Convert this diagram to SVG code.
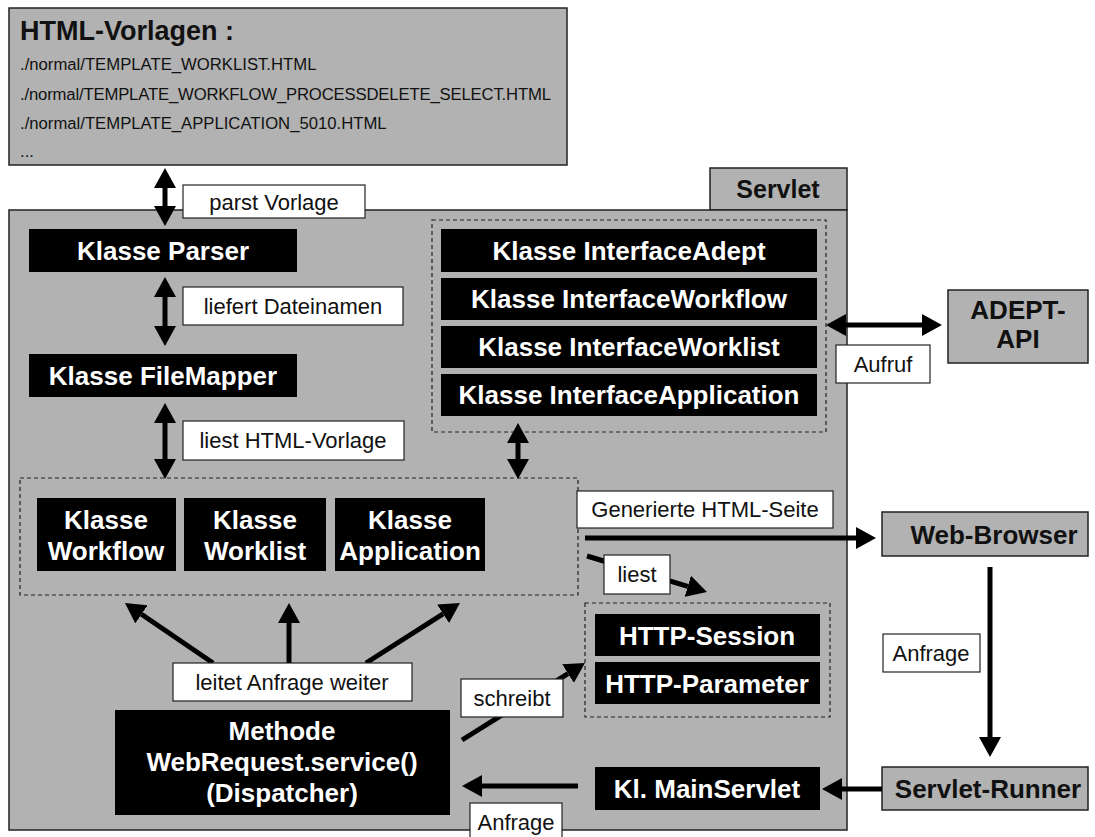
<svg xmlns="http://www.w3.org/2000/svg" width="1095" height="837" viewBox="0 0 1095 837">
  <style>
    .area { fill: #b2b2b2; stroke: #222; stroke-width: 1.5; }
    .cls { fill: #000; }
    .dash { fill: none; stroke: #222; stroke-width: 1.2; stroke-dasharray: 4 3; }
    .lbl { fill: #fff; stroke: #222; stroke-width: 1.2; }
    .wt { fill: #fff; font-family: "Liberation Sans", Arial, sans-serif; font-weight: bold; font-size: 26px; text-anchor: middle; }
    .bt { fill: #111; font-family: "Liberation Sans", Arial, sans-serif; font-weight: bold; font-size: 26px; text-anchor: middle; }
    .lt { fill: #111; font-family: "Liberation Sans", Arial, sans-serif; font-size: 22px; text-anchor: middle; }
    .ft { fill: #111; font-family: "Liberation Sans", Arial, sans-serif; font-size: 16.7px; }
    .ar { stroke: #000; stroke-width: 5; fill: none; marker-end: url(#ah); }
    .ar2 { stroke: #000; stroke-width: 5; fill: none; marker-start: url(#ah); marker-end: url(#ah); }
  </style>
  <defs>
    <marker id="ah" viewBox="0 0 20 22" refX="0" refY="11" markerWidth="20" markerHeight="22" markerUnits="userSpaceOnUse" orient="auto-start-reverse">
      <path d="M0,0 L20,11 L0,22 z" fill="#000"/>
    </marker>
  </defs>

  <rect width="1095" height="837" fill="#fff"/>

  <!-- template file list -->
  <g id="templates">
    <rect class="area" x="9" y="8" width="558" height="157"/>
    <text x="20" y="40" class="ft" style="font-weight:bold;font-size:27px">HTML-Vorlagen :</text>
    <text x="20" y="70" class="ft">./normal/TEMPLATE_WORKLIST.HTML</text>
    <text x="20" y="100" class="ft" textLength="531">./normal/TEMPLATE_WORKFLOW_PROCESSDELETE_SELECT.HTML</text>
    <text x="20" y="129" class="ft">./normal/TEMPLATE_APPLICATION_5010.HTML</text>
    <text x="20" y="157" class="ft">...</text>
  </g>

  <!-- servlet container with tab -->
  <g id="servlet">
    <rect class="area" x="710" y="168" width="137" height="42"/>
    <rect class="area" x="9" y="210" width="838" height="620"/>
    <text x="778" y="198" class="bt" style="font-size:25px">Servlet</text>
  </g>

  <g id="parser">
    <rect class="cls" x="29" y="229" width="268" height="43"/>
    <text x="163" y="260" class="wt">Klasse Parser</text>
  </g>
  <g id="filemapper">
    <rect class="cls" x="29" y="354" width="268" height="43"/>
    <text x="163" y="385" class="wt">Klasse FileMapper</text>
  </g>

  <!-- interface classes -->
  <g id="interfaces">
    <rect class="dash" x="432" y="220" width="394" height="212"/>
    <rect class="cls" x="441" y="229" width="376" height="43"/>
    <rect class="cls" x="441" y="278" width="376" height="42"/>
    <rect class="cls" x="441" y="326" width="376" height="42"/>
    <rect class="cls" x="441" y="374" width="376" height="42"/>
    <text x="629" y="260" class="wt">Klasse InterfaceAdept</text>
    <text x="629" y="308" class="wt">Klasse InterfaceWorkflow</text>
    <text x="629" y="356" class="wt">Klasse InterfaceWorklist</text>
    <text x="629" y="404" class="wt">Klasse InterfaceApplication</text>
  </g>

  <g id="adept-api">
    <rect class="area" x="948" y="290" width="140" height="73"/>
    <text x="1018" y="319" class="bt">ADEPT-</text>
    <text x="1018" y="348" class="bt">API</text>
  </g>

  <!-- worker classes -->
  <g id="worker-classes">
    <rect class="dash" x="20" y="478" width="558" height="117"/>
  </g>
  <g id="workflow">
    <rect class="cls" x="37" y="498" width="139" height="73"/>
    <text x="106" y="529" class="wt">Klasse</text>
    <text x="106" y="560" class="wt">Workflow</text>
  </g>
  <g id="worklist">
    <rect class="cls" x="184" y="498" width="142" height="73"/>
    <text x="255" y="529" class="wt">Klasse</text>
    <text x="255" y="560" class="wt">Worklist</text>
  </g>
  <g id="application">
    <rect class="cls" x="335" y="498" width="150" height="73"/>
    <text x="410" y="529" class="wt">Klasse</text>
    <text x="410" y="560" class="wt">Application</text>
  </g>

  <g id="http">
    <rect class="dash" x="585" y="603" width="245" height="114"/>
    <rect class="cls" x="595" y="614" width="225" height="42"/>
    <rect class="cls" x="595" y="662" width="225" height="42"/>
    <text x="707" y="645" class="wt">HTTP-Session</text>
    <text x="707" y="693" class="wt">HTTP-Parameter</text>
  </g>

  <g id="web-browser">
    <rect class="area" x="882" y="512" width="206" height="44"/>
    <text x="994" y="544" class="bt">Web-Browser</text>
  </g>
  <g id="servlet-runner">
    <rect class="area" x="882" y="767" width="206" height="43"/>
    <text x="988" y="798" class="bt">Servlet-Runner</text>
  </g>
  <g id="mainservlet">
    <rect class="cls" x="595" y="767" width="225" height="43"/>
    <text x="707" y="798" class="wt">Kl. MainServlet</text>
  </g>
  <g id="dispatcher">
    <rect class="cls" x="115" y="710" width="335" height="105"/>
    <text x="282" y="740" class="wt">Methode</text>
    <text x="282" y="771" class="wt">WebRequest.service()</text>
    <text x="282" y="802" class="wt">(Dispatcher)</text>
  </g>

  <!-- connectors -->
  <g id="connectors">
    <line class="ar2" x1="165" y1="188" x2="165" y2="206"/>
    <line class="ar2" x1="165" y1="297" x2="165" y2="326"/>
    <line class="ar2" x1="165" y1="423" x2="165" y2="459"/>
    <line class="ar2" x1="518" y1="443" x2="518" y2="459"/>
    <line class="ar2" x1="846" y1="325" x2="922" y2="325"/>
    <line class="ar" x1="585" y1="538" x2="856" y2="538"/>
    <line class="ar" x1="587" y1="556" x2="687.8" y2="586.3"/>
    <line class="ar" x1="990" y1="567" x2="990" y2="737"/>
    <line class="ar" x1="882" y1="789" x2="842" y2="789"/>
    <line class="ar" x1="578" y1="786" x2="482" y2="786"/>
    <line class="ar" x1="213" y1="663" x2="141.5" y2="614.3"/>
    <line class="ar" x1="289" y1="663" x2="289" y2="623"/>
    <line class="ar" x1="366" y1="663" x2="443.1" y2="613.8"/>
    <line class="ar" x1="462" y1="740" x2="568" y2="673.6"/>
  </g>

  <!-- connector labels -->
  <g id="labels">
    <rect class="lbl" x="183" y="185" width="182" height="33"/>
    <text x="274" y="210" class="lt">parst Vorlage</text>
    <rect class="lbl" x="183" y="287" width="220" height="38"/>
    <text x="293" y="314" class="lt">liefert Dateinamen</text>
    <rect class="lbl" x="183" y="421" width="221" height="39"/>
    <text x="293" y="448" class="lt">liest HTML-Vorlage</text>
    <rect class="lbl" x="836" y="345" width="94" height="38"/>
    <text x="883" y="372" class="lt">Aufruf</text>
    <rect class="lbl" x="577" y="491" width="256" height="37"/>
    <text x="705" y="517" class="lt">Generierte HTML-Seite</text>
    <rect class="lbl" x="604" y="555" width="66" height="39"/>
    <text x="637" y="582" class="lt">liest</text>
    <rect class="lbl" x="883" y="634" width="97" height="38"/>
    <text x="931" y="661" class="lt">Anfrage</text>
    <rect class="lbl" x="173" y="663" width="239" height="38"/>
    <text x="292" y="690" class="lt">leitet Anfrage weiter</text>
    <rect class="lbl" x="461" y="679" width="102" height="38"/>
    <text x="512" y="706" class="lt">schreibt</text>
    <rect class="lbl" x="470" y="803" width="92" height="40"/>
    <text x="516" y="830" class="lt">Anfrage</text>
  </g>
</svg>
